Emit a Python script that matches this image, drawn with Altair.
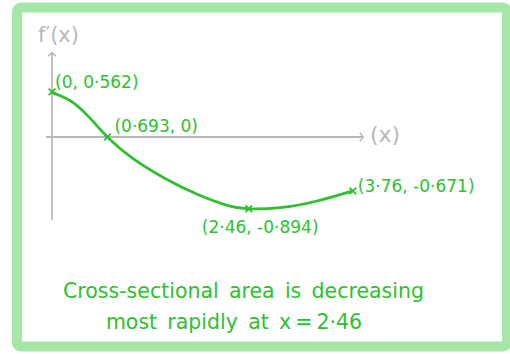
import altair as alt
import pandas as pd

# Sketch of f'(x): key points and the traced curve through them
POINT_X = [0.0, 0.693, 2.46, 3.76]
POINT_Y = [0.562, 0.0, -0.894, -0.671]
POINT_LABELS = ["(0, 0·562)", "(0·693, 0)", "(2·46,  -0·894)", "(3·76, -0·671)"]

CURVE_X = [0.0, 0.1, 0.26, 0.475, 0.693, 1.0, 1.42, 1.83, 2.2, 2.46, 2.85, 3.3, 3.76]
CURVE_Y = [0.562, 0.515, 0.43, 0.235, 0.0, -0.26, -0.52, -0.72, -0.855, -0.894, -0.88, -0.80, -0.671]

# Extent of the hand-drawn axis lines (data units)
X_AXIS_SPAN = [-0.075, 3.89]
Y_AXIS_SPAN = [-1.03, 1.05]

CONCLUSION = ["Cross-sectional\u2002area\u2002is\u2002decreasing",
              "most\u2002rapidly\u2002at\u2002x\u2009=\u20092·46"]

GREEN = "#2fbf2f"
GREY = "#b8b8b8"
FONT = "DejaVu Sans"

W, H = 490, 339
xs = alt.Scale(domain=[-0.4375, 5.6875], nice=False, zero=False)
ys = alt.Scale(domain=[-2.609, 1.6127], nice=False, zero=False)

curve = pd.DataFrame({"x": CURVE_X, "y": CURVE_Y})
pts = pd.DataFrame({"x": POINT_X, "y": POINT_Y, "label": POINT_LABELS})

xaxis = pd.DataFrame({"x": [X_AXIS_SPAN[0]], "x2": [X_AXIS_SPAN[1]], "y": [0.0]})
yaxis = pd.DataFrame({"x": [0.0], "y": [Y_AXIS_SPAN[0]], "y2": [Y_AXIS_SPAN[1]]})

X = lambda f="x": alt.X(f"{f}:Q", scale=xs, axis=None)
Y = lambda f="y": alt.Y(f"{f}:Q", scale=ys, axis=None)

x_line = alt.Chart(xaxis).mark_rule(color=GREY, strokeWidth=1.8).encode(
    x=X(), x2="x2:Q", y=Y())
y_line = alt.Chart(yaxis).mark_rule(color=GREY, strokeWidth=1.8).encode(
    x=X(), y=Y(), y2="y2:Q")

x_head = alt.Chart(pd.DataFrame({"x": [X_AXIS_SPAN[1]], "y": [0.0]})).mark_point(
    shape="M-0.8,-1L0,0L-0.8,1", size=70, filled=False, stroke=GREY, strokeWidth=1.6,
    opacity=1).encode(x=X(), y=Y())
y_head = alt.Chart(pd.DataFrame({"x": [0.0], "y": [Y_AXIS_SPAN[1]]})).mark_point(
    shape="M-1,0.8L0,0L1,0.8", size=70, filled=False, stroke=GREY, strokeWidth=1.6,
    opacity=1).encode(x=X(), y=Y())

axis_titles = [
    alt.Chart(pd.DataFrame({"t": ["f′(x)"]})).mark_text(
        font=FONT, fontSize=21, color=GREY, align="left", baseline="middle"
    ).encode(x=alt.value(21), y=alt.value(28.5), text="t:N"),
    alt.Chart(pd.DataFrame({"t": ["(x)"]})).mark_text(
        font=FONT, fontSize=22, color=GREY, align="left", baseline="middle"
    ).encode(x=alt.value(353), y=alt.value(127.5), text="t:N"),
]

line = alt.Chart(curve).mark_line(
    color=GREEN, strokeWidth=2.8, interpolate="natural").encode(x=X(), y=Y())

crosses = alt.Chart(pts).mark_point(
    shape="M-1,-1L1,1M-1,1L1,-1", size=45, filled=False, stroke=GREEN,
    strokeWidth=1.8, opacity=1).encode(x=X(), y=Y())

# per-label offsets from their point
offsets = [(3, -9), (7, -10), (-47, 19), (5, -4)]
labels = []
for i, (dx, dy) in enumerate(offsets):
    labels.append(
        alt.Chart(pts.iloc[[i]]).mark_text(
            font=FONT, fontSize=17, color=GREEN, align="left", baseline="middle",
            dx=dx, dy=dy
        ).encode(x=X(), y=Y(), text="label:N")
    )

notes = [
    alt.Chart(pd.DataFrame({"t": [CONCLUSION[0]]})).mark_text(
        font=FONT, fontSize=20.5, color=GREEN, align="center", baseline="middle"
    ).encode(x=alt.value(226.5), y=alt.value(284.5), text="t:N"),
    alt.Chart(pd.DataFrame({"t": [CONCLUSION[1]]})).mark_text(
        font=FONT, fontSize=20.5, color=GREEN, align="center", baseline="middle"
    ).encode(x=alt.value(217), y=alt.value(315.5), text="t:N"),
]

chart = alt.layer(
    x_line, y_line, x_head, y_head, *axis_titles, line, crosses, *labels, *notes
).properties(
    width=W, height=H,
    autosize="none",
    padding={"left": 17, "top": 7.5, "right": 3, "bottom": 7.5},
    background="white",
).configure_view(
    stroke="#a6e6a6", strokeWidth=10, cornerRadius=4, fill="white"
)

chart.save("out.html", embed_options={"renderer": "svg", "actions": False})
